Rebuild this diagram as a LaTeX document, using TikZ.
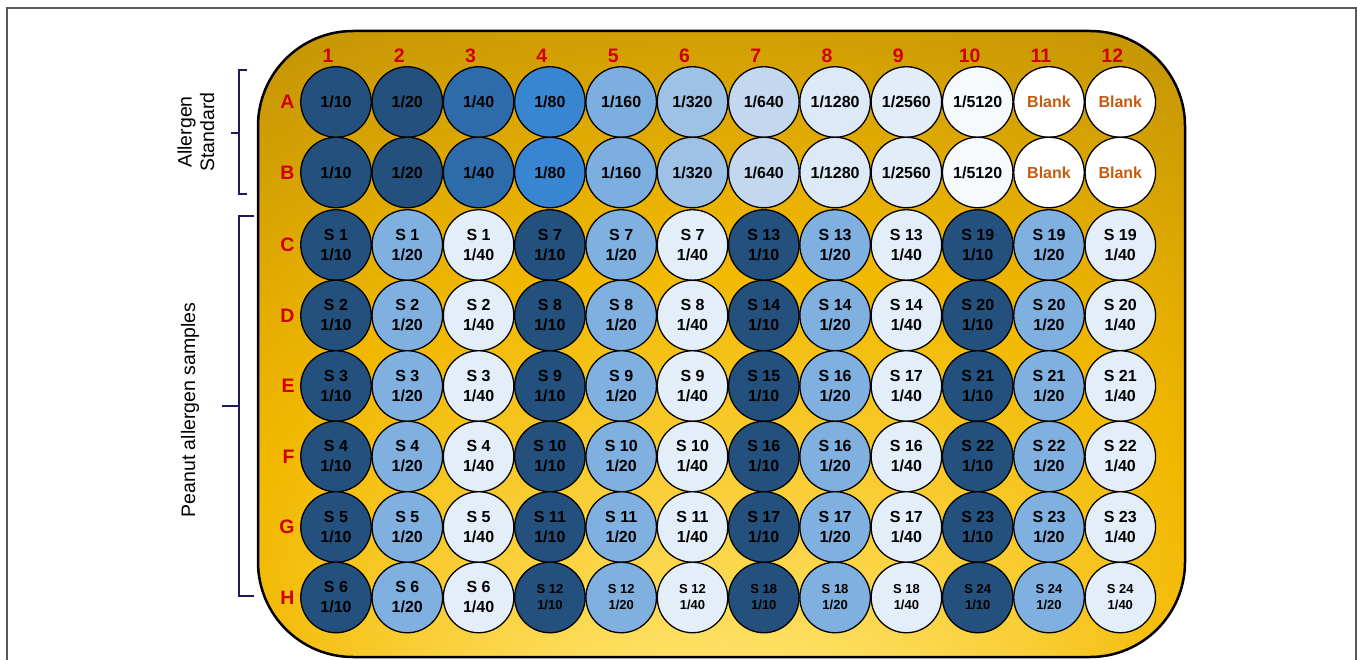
\documentclass[tikz,border=0pt]{standalone}
\usepackage{fontspec}
\setmainfont{Liberation Sans}
\usetikzlibrary{positioning}
\definecolor{wellnavy}{HTML}{23507C}
\definecolor{std40}{HTML}{2D6BAA}
\definecolor{std80}{HTML}{3886D1}
\definecolor{std160}{HTML}{7CAEDF}
\definecolor{std320}{HTML}{9DC2E6}
\definecolor{std640}{HTML}{C3D8EE}
\definecolor{std1280}{HTML}{DCE9F6}
\definecolor{std2560}{HTML}{E3EDF8}
\definecolor{std5120}{HTML}{F6FAFD}
\definecolor{wellmid}{HTML}{7FB0E0}
\definecolor{welllight}{HTML}{E3EEF8}
\definecolor{labelred}{HTML}{D00000}
\definecolor{blankorange}{HTML}{C55A11}
\definecolor{bracenavy}{HTML}{1F1A5C}
\definecolor{platedark}{HTML}{A47C08}
\definecolor{plategold}{HTML}{F2B800}
\definecolor{platelight}{HTML}{FFE166}
\pgfdeclareradialshading{platefill}{\pgfpoint{0bp}{-40bp}}{color(0bp)=(platelight); color(8bp)=(platelight); color(26bp)=(plategold); color(50bp)=(platedark)}

\begin{document}
\begin{tikzpicture}[
    x=1pt, y=-1pt,
    every node/.style={font=\fontsize{16}{20}\selectfont\bfseries},
    well/.style={circle, draw=black, line width=1.3pt, minimum size=70.5pt,
                 inner sep=0pt, align=center, text=black},
    dil0/.style={well, fill=wellnavy, yshift=-2pt},
    dil1/.style={well, fill=wellmid, yshift=-2pt},
    dil2/.style={well, fill=welllight, yshift=-2pt},
    smalltext/.style={font=\fontsize{13}{16}\selectfont\bfseries},
    blankwell/.style={well, fill=white, text=blankorange},
    rowlabel/.style={text=labelred, font=\fontsize{19.5}{20}\selectfont\bfseries},
    sidetext/.style={rotate=90, align=center, font=\fontsize{19.5}{22.5}\selectfont},
    bracket/.style={draw=bracenavy, line width=1.8pt}
]
\useasboundingbox (0,0) rectangle (1357,660);

% Frame
\coordinate (frameBL) at (7,670);
\coordinate (frameTL) at (7,8);
\coordinate (frameTR) at (1356,8);
\coordinate (frameBR) at (1356,670);
\draw [black!65, line width=1.2pt] (frameBL) -- (frameTL) -- (frameTR) -- (frameBR);

% Plate
\path [shading=platefill, rounded corners=95pt] (258,31) rectangle (1185,657);
\draw [line width=2.5pt, rounded corners=95pt] (258,31) rectangle (1185,657);

% Allergen standard rows
\foreach \r/\y in {A/102, B/172.5} {
  \foreach \d/\fc [count=\c] in {10/wellnavy, 20/wellnavy, 40/std40, 80/std80,
      160/std160, 320/std320, 640/std640, 1280/std1280, 2560/std2560, 5120/std5120}
    \node [well, fill=\fc] (\r\c) at ({336+71.3*(\c-1)},\y) {1/\d};
  \foreach \c in {11,12}
    \node [blankwell] (\r\c) at ({336+71.3*(\c-1)},\y) {Blank};
}

% Peanut allergen sample rows
\foreach \r/\y/\S in {C/243/{1,1,1,7,7,7,13,13,13,19,19,19},
                      D/313.5/{2,2,2,8,8,8,14,14,14,20,20,20},
                      E/384/{3,3,3,9,9,9,15,16,17,21,21,21},
                      F/454.5/{4,4,4,10,10,10,16,16,16,22,22,22},
                      G/525/{5,5,5,11,11,11,17,17,17,23,23,23}} {
  \foreach \s [count=\c] in \S {
    \pgfmathtruncatemacro{\k}{mod(\c-1,3)}
    \node [dil\k] (\r\c) at ({336+71.3*(\c-1)},\y)
      {S \s\\1/\ifcase\k\relax 10\or 20\or 40\fi};
  }
}
\foreach \s [count=\c] in {6,6,6} {
  \pgfmathtruncatemacro{\k}{mod(\c-1,3)}
  \node [dil\k] (H\c) at ({336+71.3*(\c-1)},595.5)
    {S \s\\1/\ifcase\k\relax 10\or 20\or 40\fi};
}
\foreach \s [count=\c from 4] in {12,12,12,18,18,18,24,24,24} {
  \pgfmathtruncatemacro{\k}{mod(\c-1,3)}
  \node [dil\k, smalltext] (H\c) at ({336+71.3*(\c-1)},595.5)
    {S \s\\1/\ifcase\k\relax 10\or 20\or 40\fi};
}

% Row and column labels
\foreach \r in {A,B,C,D,E,F,G,H}
  \node [rowlabel, left=2pt of \r1] (lab\r) {\r};
\foreach \c in {1,...,12}
  \node [rowlabel, above=0pt of A\c, xshift=-8pt] (num\c) {\c};

% Brackets
\coordinate (stdTop) at (247,70);
\coordinate (stdTip) at (231,133);
\coordinate (stdBot) at (247,194);
\draw [bracket] (stdTop) -- (239,70) -- (239,133) -- (stdTip)
                (239,133) -- (239,194) -- (stdBot);
\coordinate (smpTop) at (254,216);
\coordinate (smpTip) at (222,406);
\coordinate (smpBot) at (254,596);
\draw [bracket] (smpTop) -- (239,216) -- (239,406) -- (smpTip)
                (239,406) -- (239,596) -- (smpBot);

% Side texts
\node [sidetext] (stdtext) at (196,132) {Allergen\\Standard};
\node [sidetext] (smptext) at (190,410) {Peanut allergen samples};

\end{tikzpicture}
\end{document}
